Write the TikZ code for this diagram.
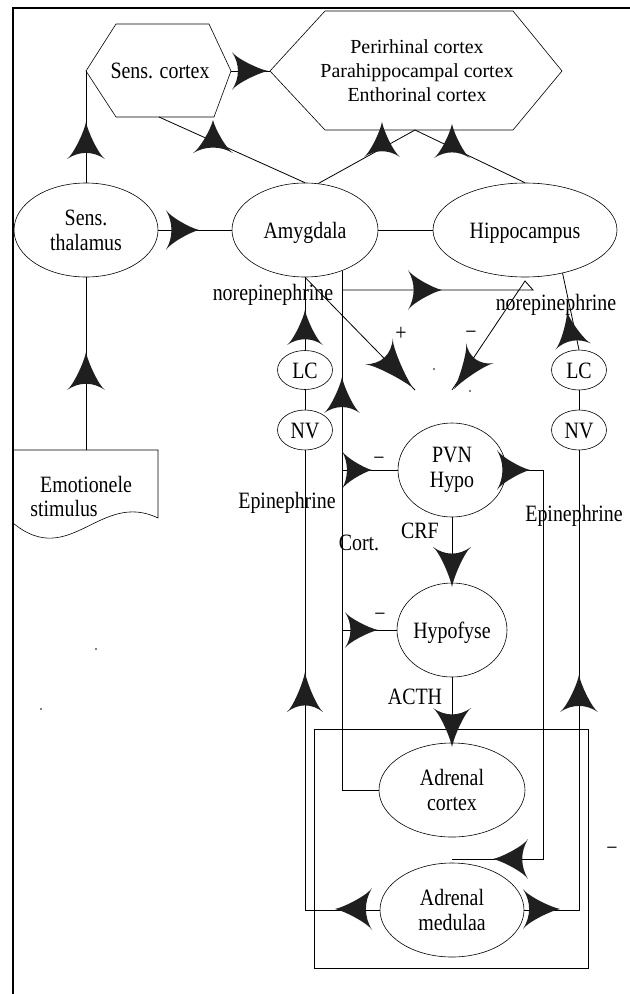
\documentclass[tikz,border=0pt]{standalone}
\usepackage{fontspec}
\setmainfont{Liberation Serif}
\newfontfamily\cond[FakeStretch=0.85]{Liberation Serif}
\usetikzlibrary{shapes.geometric}
\definecolor{arrowfill}{gray}{0.12}
\tikzset{
  txt/.style={font=\cond\fontsize{23.5}{25}\selectfont, inner sep=0pt},
  ell/.style={draw, ellipse, line width=0.6bp, inner sep=0pt, font=\cond\fontsize{23.5}{25}\selectfont},
  ell2/.style={ell, align=center},
  one/.style={text height=16bp, text depth=0bp},
  conn/.style={line width=0.8bp},
  frame/.style={line width=1.4bp},
  outline/.style={line width=0.6bp},
  pics/dl/.style n args={2}{code={
    \fill[arrowfill] (0,0) .. controls ({-0.3*#1},{0.12*#2}) and ({-0.9*#1},{0.7*#2}) .. ({-#1},{#2})
      .. controls ({-0.78*#1},{0.35*#2}) and ({-0.78*#1},{-0.35*#2}) .. ({-#1},{-#2})
      .. controls ({-0.9*#1},{-0.7*#2}) and ({-0.3*#1},{-0.12*#2}) .. (0,0) -- cycle;
  }},
}
\begin{document}
\begin{tikzpicture}[x=1bp, y=-1bp]
\useasboundingbox (0,0) rectangle (630,994);
% frame
\draw[frame] (13,994) -- (13,8) -- (630,8);

% hexagons
\draw[outline] (86,71) coordinate (scW) -- (116,24) -- (209,24) -- (231,71) coordinate (scE) -- (214,117) -- (116,117) -- cycle;
\coordinate (scS) at (159,117);
\node[txt] (sc) at (160,71) {Sens. cortex};
\draw[outline] (270,71) coordinate (pcW) -- (325,11) -- (513,11) -- (562,71) -- (513,130) -- (325,130) -- cycle;
\coordinate (pcS) at (415,130);
\node[font=\fontsize{20}{24}\selectfont, align=center, inner sep=0pt] (pc) at (417,71) {Perirhinal cortex\\Parahippocampal cortex\\Enthorinal cortex};

% document shape
\draw[outline] (13,450) -- (158,450) -- (158,518) .. controls (100,490) and (70,570) .. (13,523) -- cycle;
\coordinate (esN) at (86,450);
\node[txt, anchor=base] (es1) at (86,492) {Emotionele};
\node[txt, anchor=base] (es2) at (64,516) {stimulus};

% ellipses
\node[ell2, minimum width=144bp, minimum height=94bp] (st) at (86,230) {Sens.\\thalamus};
\node[ell, one, minimum width=146bp, minimum height=94bp] (am) at (305,230) {Amygdala};
\node[ell, one, minimum width=184bp, minimum height=94bp] (hc) at (525,230) {Hippocampus};
\node[ell, one, minimum width=55bp, minimum height=39bp] (lcL) at (305,370) {LC};
\node[ell, one, minimum width=55bp, minimum height=40bp] (nvL) at (305,430) {NV};
\node[ell, one, minimum width=55bp, minimum height=40bp] (lcR) at (579,370) {LC};
\node[ell, one, minimum width=55bp, minimum height=40bp] (nvR) at (579,430) {NV};
\node[ell2, minimum width=108bp, minimum height=94bp] (pvn) at (452,470) {PVN\\Hypo};
\node[ell, one, minimum width=110bp, minimum height=94bp] (hy) at (452,630) {Hypofyse};
\node[ell2, minimum width=146bp, minimum height=94bp] (ac) at (452,790) {Adrenal\\cortex};
\node[ell2, minimum width=144bp, minimum height=94bp] (md) at (452,910) {Adrenal\\medulaa};

% box
\node[draw, line width=0.8bp, minimum width=274bp, minimum height=239bp, inner sep=0pt] (box) at (451,848.5) {};

% free coordinates
\coordinate (cx) at (am.-47.6);
\coordinate (h1) at (342,290);
\coordinate (h2) at (533,290);
\coordinate (h3) at (525,281);
\coordinate (tgt1) at (415,390);
\coordinate (tgt2) at (452,390);
\coordinate (v1) at (543,859);
\coordinate (tgt3) at (452,859);

% connectors
\draw[conn] (scE) -- (pcW);
\draw[conn] (st.north) -- (scW);
\draw[conn] (scS) -- (am.north);
\draw[conn] (st.east) -- (am.west);
\draw[conn] (am.74) -- (pcS);
\draw[conn] (hc.north) -- (pcS);
\draw[conn] (am.east) -- (hc.west);
\draw[conn] (esN) -- (st.south);
\draw[conn] (lcL.north) -- (am.south);
\draw[conn] (lcL) -- (nvL);
\draw[conn] (nvL.south) |- (md.west);
\draw[conn] (lcR.north) -- (hc.-49);
\draw[conn] (lcR) -- (nvR);
\draw[conn] (nvR.south) |- (md.east);
\draw[conn] (ac.west) -| (cx);
\draw[conn] (pvn.west -| cx) -- (pvn.west);
\draw[conn] (hy.west -| cx) -- (hy.west);
\draw[conn] (h1) -- (h2) -- (h3) -- (tgt2);
\draw[conn] (am.south) -- (tgt1);
\draw[conn] (pvn.south) -- (hy.north);
\draw[conn] (hy.south) -- (ac.north);
\draw[conn] (pvn.east) -| (v1) -- (tgt3);

% arrowheads
\pic[rotate=0] at (268,71) {dl={36}{19}};
\pic[rotate=90] at (86,122) {dl={37}{19}};
\pic[rotate=90] at (213,120) {dl={33}{20}};
\pic[rotate=0] at (199,230) {dl={33}{20}};
\pic[rotate=90] at (382,122) {dl={35}{18}};
\pic[rotate=90] at (452,124) {dl={34}{18}};
\pic[rotate=90] at (86,352) {dl={38}{19}};
\pic[rotate=90] at (305,310) {dl={35}{18}};
\pic[rotate=90] at (342,377) {dl={36}{18}};
\pic[rotate=100] at (567,312) {dl={35}{18}};
\pic[rotate=0] at (442,290) {dl={34}{20}};
\pic[rotate=-47] at (413,388) {dl={50}{19}};
\pic[rotate=234] at (454,389) {dl={44}{17}};
\pic[rotate=0] at (372,470) {dl={30}{19}};
\pic[rotate=0] at (378,630) {dl={33}{18}};
\pic[rotate=270] at (452,587) {dl={40}{19}};
\pic[rotate=270] at (452,747) {dl={39}{19}};
\pic[rotate=90] at (305,672) {dl={40}{18}};
\pic[rotate=90] at (579,675) {dl={37}{19}};
\pic[rotate=180] at (335,909) {dl={37}{21}};
\pic[rotate=0] at (560,909) {dl={37}{20}};
\pic[rotate=0] at (530,470) {dl={33}{20}};
\pic[rotate=180] at (493,859) {dl={35}{20}};

% labels
\node[txt, anchor=base] (ne1) at (273,300) {norepinephrine};
\node[txt, anchor=base] (ne2) at (556,310) {norepinephrine};
\node[txt, anchor=base] (ep1) at (287,508) {Epinephrine};
\node[txt, anchor=base] (ep2) at (574,521) {Epinephrine};
\node[txt, anchor=base] (cort) at (359,550) {Cort.};
\node[txt, anchor=base] (crf) at (420,538) {CRF};
\node[txt, anchor=base] (acth) at (415,704) {ACTH};
\node[txt, anchor=base] (plus) at (401,340) {+};
\node[txt, anchor=base] (m1) at (471,339) {−};
\node[txt, anchor=base] (m2) at (379,465) {−};
\node[txt, anchor=base] (m3) at (380,621) {−};
\node[txt, anchor=base] (m4) at (612,855) {−};

% stray dots
\fill (434,369) circle (0.8);
\fill (470,391) circle (0.8);
\fill (96,649) circle (0.8);
\fill (41,709) circle (0.8);
\end{tikzpicture}
\end{document}
